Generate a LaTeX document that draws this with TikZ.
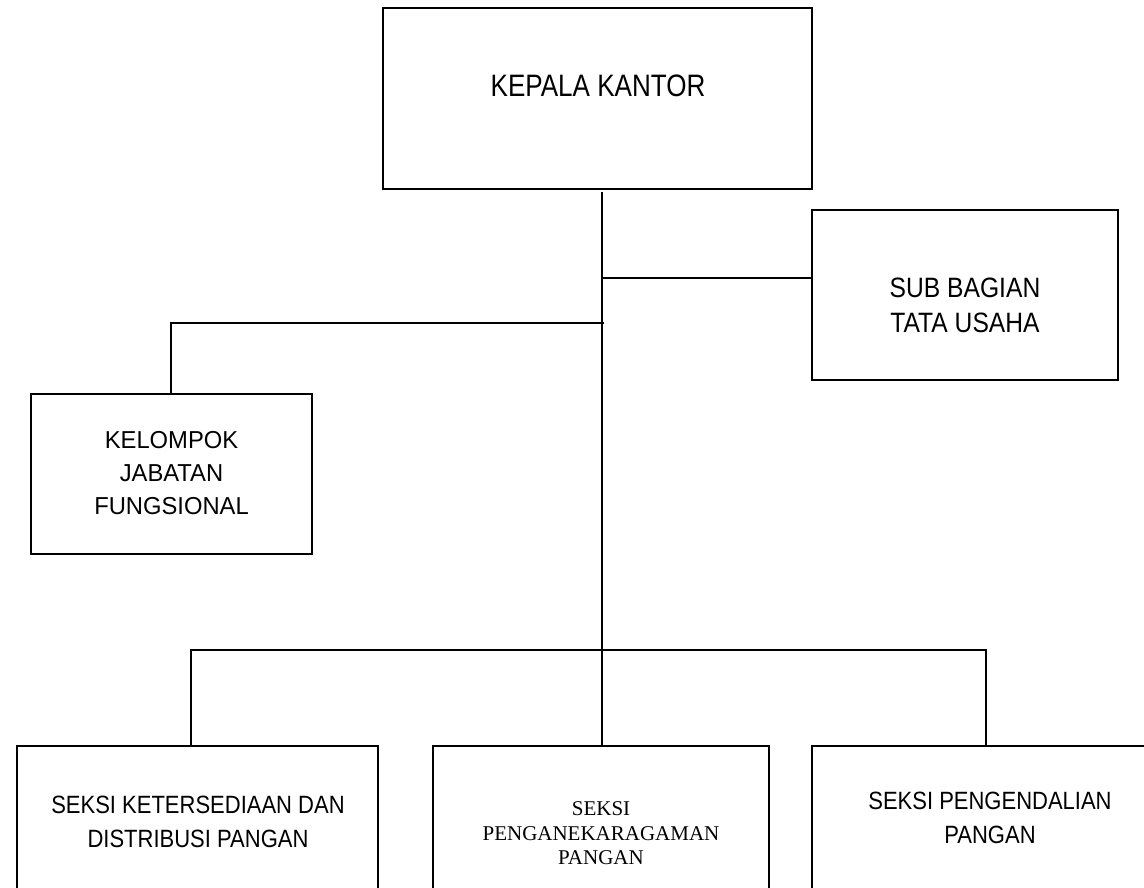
\documentclass[tikz,border=0pt]{standalone}
\usepackage{fontspec}
\setmainfont{Liberation Sans}
\newfontfamily\sansC[FakeStretch=0.88]{Liberation Sans}
\newfontfamily\sansS[FakeStretch=0.84]{Liberation Sans}
\newfontfamily\sansK[FakeStretch=0.97]{Liberation Sans}
\newfontfamily\serifT{Liberation Serif}
\tikzset{
  orgbox/.style={draw, line width=1.6pt, rectangle, inner sep=0pt, outer sep=0pt},
  conn/.style={line width=1.6pt, line cap=rect},
  lbl/.style={align=center, inner sep=0pt, text=black},
}
\begin{document}
\begin{tikzpicture}[x=1pt,y=-1pt]
\useasboundingbox (0,0) rectangle (1144,888);
\clip (0,0) rectangle (1144,888);
% boxes
\node[orgbox, minimum width=429pt, minimum height=181pt] (kepala) at (597.5,98.5) {};
\node[orgbox, minimum width=306pt, minimum height=170pt] (sub) at (965,295) {};
\node[orgbox, minimum width=281pt, minimum height=160pt] (kel) at (171.5,474) {};
\node[orgbox, minimum width=361pt, minimum height=164pt] (ket) at (197.5,828) {};
\node[orgbox, minimum width=336pt, minimum height=164pt] (peng) at (601,828) {};
\node[orgbox, minimum width=356pt, minimum height=164pt] (pend) at (990,828) {};
% labels
\node[lbl, font={\sansS\fontsize{31}{33}\selectfont}] (kepalaT) at (598,85.5) {KEPALA KANTOR};
\node[lbl, font={\sansC\fontsize{28}{35}\selectfont}] (subT) at (965,305) {SUB BAGIAN\\TATA USAHA};
\node[lbl, font={\sansK\fontsize{24.5}{33}\selectfont}] (kelT) at (171.5,473) {KELOMPOK\\JABATAN\\FUNGSIONAL};
\node[lbl, font={\sansC\fontsize{25}{34}\selectfont}] (ketT) at (198,822) {SEKSI KETERSEDIAAN DAN\\DISTRIBUSI PANGAN};
\node[lbl, font={\serifT\fontsize{21}{24.5}\selectfont}] (pengT) at (601,833.5) {SEKSI\\PENGANEKARAGAMAN\\PANGAN};
\node[lbl, font={\sansC\fontsize{25}{34}\selectfont}] (pendT) at (990,818) {SEKSI PENGENDALIAN\\PANGAN};
% connector points
\coordinate (t0) at (602,193);
\coordinate (tsub) at (602,278);
\coordinate (tkel) at (603,323);
\coordinate (kelc) at (171,323);
\coordinate (bL) at (191,650);
\coordinate (bR) at (986,650);
% connectors
\draw[conn] (t0) -- (t0 |- peng.north);
\draw[conn] (tsub) -- (sub.west |- tsub);
\draw[conn] (tkel) -- (kelc) -- (kelc |- kel.north);
\draw[conn] (ket.north -| bL) -- (bL) -- (bR) -- (bR |- pend.north);
\end{tikzpicture}
\end{document}
